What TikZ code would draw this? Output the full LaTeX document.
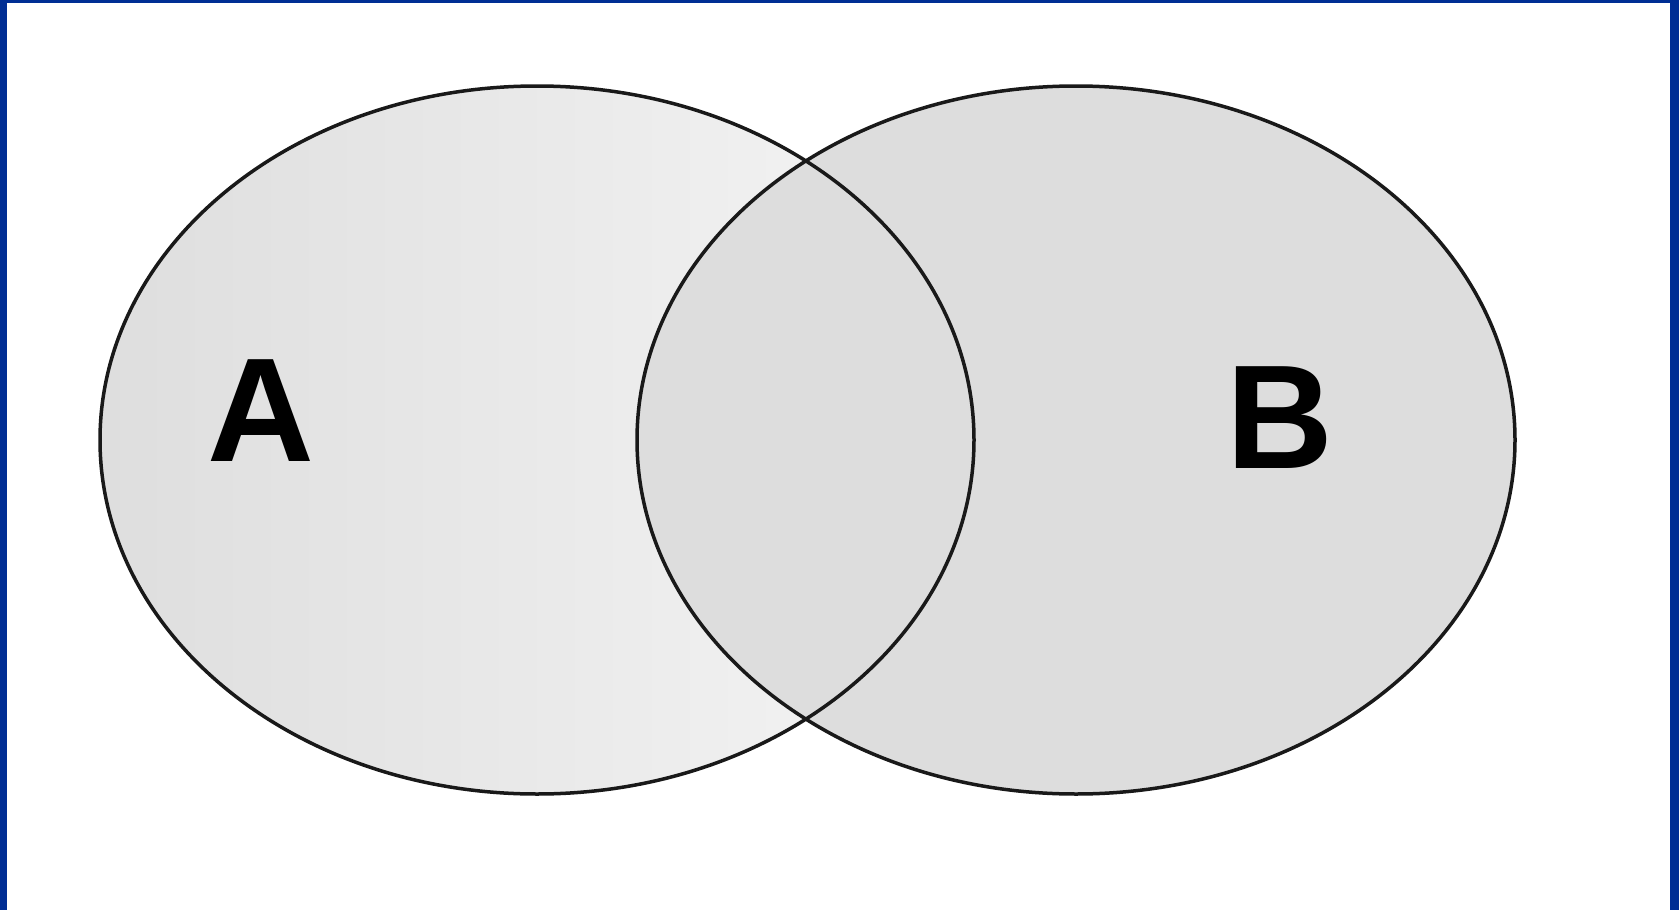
\documentclass[tikz,border=0pt]{standalone}
\usepackage{fontspec}
\setmainfont{Liberation Sans}
\usetikzlibrary{positioning}
\definecolor{cadre}{RGB}{0,46,148}
\definecolor{grisA}{RGB}{222,222,222}
\definecolor{grisAclair}{RGB}{245,245,245}
\definecolor{grisB}{RGB}{221,221,221}
\tikzset{
  ensemble/.style={draw=black!90, line width=3.5pt},
  lettre/.style={font=\bfseries\fontsize{148}{148}\selectfont, inner sep=0pt}
}

\begin{document}
\begin{tikzpicture}[x=1pt,y=-1pt]
    % Cadre bleu
    \fill[cadre] (0,0) rectangle (1679,910);
    \fill[white] (7,3) rectangle (1670,910);
    \useasboundingbox (0,0) rectangle (1679,910);
    % Centres des ensembles
    \coordinate (cA) at (537,440);
    \coordinate (cB) at (1076,440);
    % Ensemble A
    \shade[left color=grisA, right color=grisAclair] (cA) ellipse [x radius=437, y radius=354];
    % Ensemble B par-dessus
    \fill[grisB] (cB) ellipse [x radius=439, y radius=354];
    % Contours
    \draw[ensemble] (cA) ellipse [x radius=437, y radius=354];
    \draw[ensemble] (cB) ellipse [x radius=439, y radius=354];
    % Noms
    \node[lettre] (nomA) at (261,411) {A};
    \node[lettre] (nomB) at (1280,418) {B};
\end{tikzpicture}
\end{document}
